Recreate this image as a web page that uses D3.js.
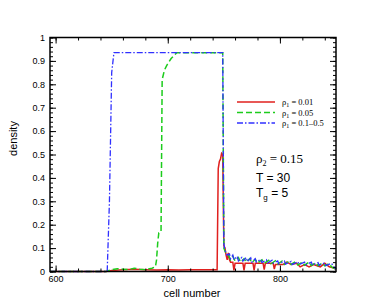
<!DOCTYPE html>
<html>
<head>
<meta charset="utf-8">
<script src="https://cdn.jsdelivr.net/npm/d3@7"></script>
<style>
  body { margin: 0; background: #fff; }
  svg { display: block; }
</style>
</head>
<body>
<script>
// data
const redCells = [595, 645, 650, 660, 670, 680, 690, 700, 710, 720, 730, 740, 744, 745, 746, 747, 748, 749, 750, 751, 752, 753, 754, 755, 756, 758, 759, 760, 767, 768, 769, 776, 777, 778, 785, 786, 787, 794, 795, 796, 803, 806, 810, 815, 818, 822, 826, 830, 836, 840, 844, 848, 850];
const redValues = [0, 0, 0.004, 0.008, 0.01, 0.008, 0.006, 0.008, 0.006, 0.008, 0.007, 0.008, 0.008, 0.44, 0.47, 0.48, 0.505, 0.5, 0.11, 0.1, 0.07, 0.05, 0.08, 0.05, 0.04, 0.04, 0.005, 0.035, 0.035, 0.005, 0.035, 0.035, 0.005, 0.035, 0.035, 0.008, 0.035, 0.035, 0.01, 0.03, 0.03, 0.04, 0.03, 0.035, 0.02, 0.03, 0.02, 0.03, 0.02, 0.035, 0.02, 0.015, 0.01];

const greenCells = [595, 645, 650, 655, 660, 665, 670, 675, 680, 686, 689, 690, 691, 692, 694, 695, 697, 699, 703, 708, 749, 750, 752, 754, 756, 758, 760, 763, 765, 768, 770, 773, 775, 778, 780, 784, 786, 790, 792, 796, 798, 802, 804, 808, 810, 814, 816, 820, 822, 826, 828, 832, 834, 838, 840, 844, 846, 850];
const greenValues = [0, 0, 0.008, 0.012, 0.01, 0.008, 0.014, 0.01, 0.008, 0.014, 0.02, 0.05, 0.12, 0.165, 0.17, 0.82, 0.86, 0.88, 0.91, 0.935, 0.935, 0.1, 0.075, 0.07, 0.05, 0.065, 0.045, 0.06, 0.04, 0.055, 0.04, 0.055, 0.038, 0.052, 0.036, 0.05, 0.035, 0.048, 0.033, 0.046, 0.032, 0.045, 0.03, 0.043, 0.03, 0.042, 0.028, 0.04, 0.027, 0.04, 0.026, 0.038, 0.025, 0.036, 0.024, 0.034, 0.02, 0.01];

const blueCells = [595, 646, 648, 650, 652, 748, 749, 750, 751, 752, 753, 755, 756, 758, 759, 762, 763, 766, 767, 770, 771, 774, 775, 778, 779, 783, 784, 788, 789, 793, 794, 798, 799, 804, 805, 810, 811, 816, 817, 822, 823, 828, 829, 834, 835, 840, 841, 846, 848, 850];
const blueValues = [0, 0, 0.3, 0.85, 0.935, 0.935, 0.935, 0.12, 0.09, 0.08, 0.07, 0.075, 0.055, 0.07, 0.05, 0.065, 0.045, 0.06, 0.045, 0.06, 0.042, 0.058, 0.04, 0.055, 0.04, 0.052, 0.038, 0.05, 0.036, 0.048, 0.035, 0.045, 0.033, 0.045, 0.032, 0.043, 0.03, 0.042, 0.03, 0.04, 0.028, 0.04, 0.027, 0.038, 0.026, 0.037, 0.025, 0.035, 0.02, 0.01];

const xTicks = [600, 700, 800];
const yTicks = [0, 0.1, 0.2, 0.3, 0.4, 0.5, 0.6, 0.7, 0.8, 0.9, 1];
const legendLabels = ['0.01', '0.05', '0.1\u20130.5'];

const width = 382, height = 306;
const margin = { top: 37.5, left: 50, right: 46, bottom: 34.5 };
const innerW = width - margin.left - margin.right;
const innerH = height - margin.top - margin.bottom;

const svg = d3.select('body').append('svg')
    .attr('width', width)
    .attr('height', height);

const x = d3.scaleLinear().domain([595, 850]).range([0, innerW]);
const y = d3.scaleLinear().domain([0, 1]).range([innerH, 0]);

const g = svg.append('g').attr('transform', `translate(${margin.left},${margin.top})`);

// series
const series = [
    { cells: redCells, values: redValues, color: '#e0201e', dash: null, w: 1.5 },
    { cells: greenCells, values: greenValues, color: '#1ccc1c', dash: '6,3', w: 1.5 },
    { cells: blueCells, values: blueValues, color: '#3030ff', dash: '6,2,1.5,2', w: 1.3 }
];

const line = d3.line().x(d => x(d[0])).y(d => y(d[1]));

g.append('g')
    .selectAll('path')
    .data(series)
    .enter()
    .append('path')
    .attr('fill', 'none')
    .attr('stroke', s => s.color)
    .attr('stroke-width', s => s.w)
    .attr('stroke-dasharray', s => s.dash)
    .attr('d', s => line(s.cells.map((c, i) => [c, s.values[i]])));

// axes, ticks pointing inward
const minorX = d3.range(600, 851, 20);
const minorY = d3.range(0, 1.001, 0.02);

function styleAxis(sel) {
    sel.select('.domain').remove();
    sel.selectAll('.tick line').attr('stroke', '#000').attr('stroke-width', 1);
    sel.selectAll('text')
        .attr('font-family', "'Liberation Sans', Arial, sans-serif")
        .attr('font-size', 9)
        .attr('fill', '#000');
}

g.append('g').attr('transform', `translate(0,${innerH})`)
    .call(d3.axisBottom(x).tickValues(minorX).tickSize(-3).tickFormat(''))
    .call(styleAxis);
g.append('g')
    .call(d3.axisTop(x).tickValues(minorX).tickSize(-3).tickFormat(''))
    .call(styleAxis);
g.append('g')
    .call(d3.axisLeft(y).tickValues(minorY).tickSize(-3).tickFormat(''))
    .call(styleAxis);
g.append('g').attr('transform', `translate(${innerW},0)`)
    .call(d3.axisRight(y).tickValues(minorY).tickSize(-3).tickFormat(''))
    .call(styleAxis);

g.append('g').attr('transform', `translate(0,${innerH})`)
    .call(d3.axisBottom(x).tickValues(xTicks).tickSize(-6).tickPadding(4).tickFormat(d3.format('d')))
    .call(styleAxis);
g.append('g')
    .call(d3.axisTop(x).tickValues(xTicks).tickSize(-6).tickFormat(''))
    .call(styleAxis);
g.append('g')
    .call(d3.axisLeft(y).tickValues(yTicks).tickSize(-6).tickPadding(5).tickFormat(d => d === 0 || d === 1 ? d3.format('d')(d) : d3.format('.1f')(d)))
    .call(styleAxis);
g.append('g').attr('transform', `translate(${innerW},0)`)
    .call(d3.axisRight(y).tickValues(yTicks).tickSize(-6).tickFormat(''))
    .call(styleAxis);

g.append('rect')
    .attr('width', innerW)
    .attr('height', innerH)
    .attr('fill', 'none')
    .attr('stroke', '#000')
    .attr('stroke-width', 1.5);

// axis titles
svg.append('text')
    .attr('transform', `translate(17,${margin.top + innerH / 2 - 16}) rotate(-90)`)
    .attr('text-anchor', 'middle')
    .attr('font-family', "'Liberation Sans', Arial, sans-serif")
    .attr('font-size', 11)
    .text('density');

svg.append('text')
    .attr('x', 192)
    .attr('y', 297)
    .attr('text-anchor', 'middle')
    .attr('font-family', "'Liberation Sans', Arial, sans-serif")
    .attr('font-size', 11)
    .text('cell number');

// legend
const legend = svg.append('g');
series.forEach((s, i) => {
    const ly = 102 + i * 10.5;
    legend.append('line')
        .attr('x1', 237).attr('x2', 275)
        .attr('y1', ly).attr('y2', ly)
        .attr('stroke', s.color)
        .attr('stroke-width', s.w)
        .attr('stroke-dasharray', s.dash);
    const t = legend.append('text')
        .attr('x', 282)
        .attr('y', ly + 3)
        .attr('font-family', "'Liberation Serif', 'Times New Roman', serif")
        .attr('font-size', 8.5);
    t.append('tspan').text('\u03c1');
    t.append('tspan').attr('font-size', 6).attr('dy', 2).text('1');
    t.append('tspan').attr('dy', -2).text(' = ' + legendLabels[i]);
});

// annotation
const rho = svg.append('text')
    .attr('x', 256)
    .attr('y', 163)
    .attr('font-family', "'Liberation Serif', 'Times New Roman', serif")
    .attr('font-size', 13);
rho.append('tspan').text('\u03c1');
rho.append('tspan').attr('font-size', 8).attr('dy', 3).text('2');
rho.append('tspan').attr('dy', -3).text(' = 0.15');

svg.append('text')
    .attr('x', 256)
    .attr('y', 182)
    .attr('font-family', "'Liberation Sans', Arial, sans-serif")
    .attr('font-size', 12)
    .text('T = 30');

const tg = svg.append('text')
    .attr('x', 256)
    .attr('y', 197)
    .attr('font-family', "'Liberation Sans', Arial, sans-serif")
    .attr('font-size', 12);
tg.append('tspan').text('T');
tg.append('tspan').attr('font-size', 8).attr('dy', 3).text('g');
tg.append('tspan').attr('dy', -3).text(' = 5');
</script>
</body>
</html>
